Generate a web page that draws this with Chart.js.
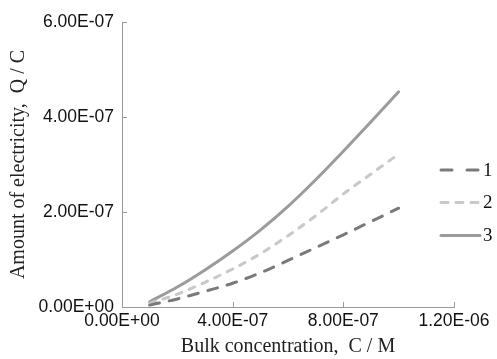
<!DOCTYPE html>
<html><head><meta charset="utf-8">
<script src="https://cdn.jsdelivr.net/npm/chart.js@4/dist/chart.umd.min.js"></script>
<style>html,body{margin:0;padding:0;background:#fff}#wrap{width:497px;height:359px}</style>
</head><body><div id="wrap"><canvas id="c" width="497" height="359"></canvas></div>
<script>
// Data
const concentration = [1e-7, 2e-7, 3e-7, 4e-7, 5e-7, 6e-7, 7e-7, 8e-7, 9e-7, 10e-7];
const series1 = [0.04e-7, 0.17e-7, 0.33e-7, 0.50e-7, 0.72e-7, 0.98e-7, 1.25e-7, 1.52e-7, 1.80e-7, 2.08e-7];
const series2 = [0.08e-7, 0.27e-7, 0.52e-7, 0.80e-7, 1.12e-7, 1.50e-7, 1.92e-7, 2.38e-7, 2.80e-7, 3.22e-7];
const series3 = [0.11e-7, 0.42e-7, 0.78e-7, 1.18e-7, 1.62e-7, 2.12e-7, 2.68e-7, 3.28e-7, 3.90e-7, 4.53e-7];
const seriesNames = ['1', '2', '3'];
const xTickValues = [0, 4e-7, 8e-7, 12e-7];
const xTickLabels = ['0.00E+00', '4.00E-07', '8.00E-07', '1.20E-06'];
const yTickValues = [0, 2e-7, 4e-7, 6e-7];
const yTickLabels = ['0.00E+00', '2.00E-07', '4.00E-07', '6.00E-07'];
const xTitle = 'Bulk concentration,  C / M';
const yTitle = 'Amount of electricity,  Q / C';

const toPts = ys => concentration.map((x, i) => ({x: x, y: ys[i]}));
const legendDash = [[11, 15], [7, 8], []];

const innerTicks = {
  id: 'innerTicks',
  afterDraw(chart) {
    const ctx = chart.ctx, xs = chart.scales.x, ys = chart.scales.y;
    ctx.save();
    ctx.strokeStyle = '#9a9a9a';
    ctx.lineWidth = 1;
    xTickValues.forEach(v => {
      const px = Math.round(xs.getPixelForValue(v)) + 0.5;
      ctx.beginPath(); ctx.moveTo(px, ys.bottom); ctx.lineTo(px, ys.bottom - 5); ctx.stroke();
    });
    yTickValues.forEach(v => {
      const py = Math.round(ys.getPixelForValue(v)) + 0.5;
      ctx.beginPath(); ctx.moveTo(xs.left, py); ctx.lineTo(xs.left + 5, py); ctx.stroke();
    });
    // legend
    const rows = [170, 202.5, 235.5];
    chart.data.datasets.forEach((ds, i) => {
      ctx.strokeStyle = ds.borderColor;
      ctx.lineWidth = ds.borderWidth;
      ctx.lineCap = 'round';
      ctx.setLineDash(legendDash[i]);
      ctx.beginPath(); ctx.moveTo(441, rows[i]); ctx.lineTo(480, rows[i]); ctx.stroke();
      ctx.setLineDash([]);
      ctx.fillStyle = '#111';
      ctx.font = '19px "Liberation Serif"';
      ctx.textBaseline = 'middle';
      ctx.textAlign = 'left';
      ctx.fillText(ds.label, 483, rows[i] + 1);
    });
    ctx.restore();
  }
};

new Chart(document.getElementById('c'), {
  type: 'scatter',
  data: {
    datasets: [
      {label: seriesNames[0], data: toPts(series1), showLine: true, borderColor: '#7a7a7a', borderWidth: 3, borderDash: [10, 10], borderCapStyle: 'round', pointRadius: 0, cubicInterpolationMode: 'monotone'},
      {label: seriesNames[1], data: toPts(series2), showLine: true, borderColor: '#c8c8c8', borderWidth: 3, borderDash: [6, 8], borderCapStyle: 'round', pointRadius: 0, cubicInterpolationMode: 'monotone'},
      {label: seriesNames[2], data: toPts(series3), showLine: true, borderColor: '#9b9b9b', borderWidth: 3, borderCapStyle: 'round', pointRadius: 0, cubicInterpolationMode: 'monotone'}
    ]
  },
  options: {
    responsive: false,
    animation: false,
    devicePixelRatio: 1,
    layout: {padding: {top: 22, right: 43, left: 0, bottom: 0}},
    plugins: {legend: {display: false}, tooltip: {enabled: false}},
    scales: {
      x: {
        type: 'linear', min: 0, max: 12e-7,
        afterBuildTicks: s => { s.ticks = xTickValues.map(v => ({value: v})); },
        afterFit: s => { s.height = 52; },
        grid: {display: false, drawTicks: false},
        border: {display: true, color: '#9a9a9a', width: 1},
        ticks: {callback: (v, i) => xTickLabels[i], font: {family: '"Liberation Sans"', size: 17.5}, color: '#111', padding: 4, maxRotation: 0, autoSkip: false},
        title: {display: true, text: xTitle, font: {family: '"Liberation Serif"', size: 20}, color: '#222', padding: {top: 0, bottom: 0}, align: 'center'}
      },
      y: {
        type: 'linear', min: 0, max: 6e-7,
        afterBuildTicks: s => { s.ticks = yTickValues.map(v => ({value: v})); },
        afterFit: s => { s.width = 122; },
        grid: {display: false, drawTicks: false},
        border: {display: true, color: '#9a9a9a', width: 1},
        ticks: {callback: (v, i) => yTickLabels[i], font: {family: '"Liberation Sans"', size: 17.5}, color: '#111', padding: 8, autoSkip: false},
        title: {display: true, text: yTitle, font: {family: '"Liberation Serif"', size: 20}, color: '#222', padding: {top: 7, bottom: 0}}
      }
    }
  },
  plugins: [innerTicks]
});
</script></body></html>
